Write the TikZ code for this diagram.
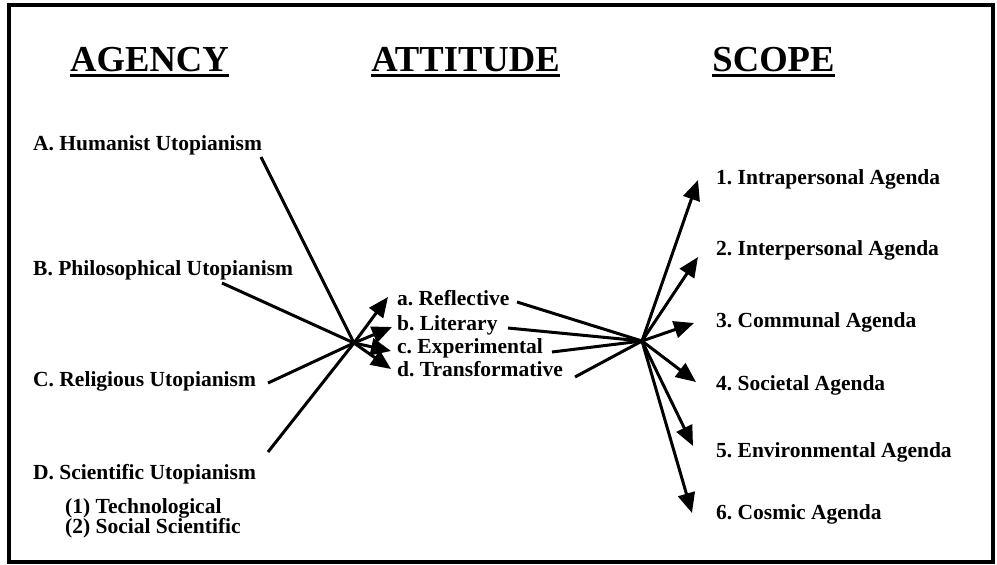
\documentclass[tikz,border=0pt]{standalone}
\usepackage{fontspec}
\setmainfont{Liberation Serif}
\usetikzlibrary{arrows.meta}
\frenchspacing
\begin{document}
\begin{tikzpicture}[x=1pt,y=-1pt,
  lbl/.style={anchor=base west,inner sep=0pt,font=\fontsize{21.5}{24}\selectfont\bfseries\frenchspacing},
  ttl/.style={anchor=base,inner sep=0pt,font=\fontsize{36.6}{40}\selectfont\bfseries},
  ln/.style={line width=3pt,draw=black},
  arr/.style={ln,-{Triangle[length=20pt,width=17pt]}},
  uline/.style={line width=2.4pt}]
\useasboundingbox (0,0) rectangle (997,565);
\draw[line width=3.4pt] (9,5) rectangle (993,562);
% titles
\node[ttl] (tAg) at (149.5,71) {AGENCY};
\node[ttl] (tAt) at (465.5,71) {ATTITUDE};
\node[ttl] (tSc) at (773.5,71) {SCOPE};
\foreach \t in {tAg,tAt,tSc}
  \draw[uline] ([yshift=-4.5pt]\t.base west) -- ([yshift=-4.5pt]\t.base east);
% left labels
\node[lbl] (A) at (33,150) {A. Humanist Utopianism};
\node[lbl] (B) at (33,275) {B. Philosophical Utopianism};
\node[lbl] (C) at (33,386) {C. Religious Utopianism};
\node[lbl] (D) at (33,479) {D. Scientific Utopianism};
\node[lbl] (D1) at (65,513) {(1) Technological};
\node[lbl] (D2) at (65,533) {(2) Social Scientific};
% middle labels
\node[lbl] (a) at (397,305) {a. Reflective};
\node[lbl] (b) at (397,330) {b. Literary};
\node[lbl] (c) at (397,353) {c. Experimental};
\node[lbl] (d) at (397,376) {d. Transformative};
% right labels
\node[lbl] (s1) at (716,184) {1. Intrapersonal Agenda};
\node[lbl] (s2) at (716,255) {2. Interpersonal Agenda};
\node[lbl] (s3) at (716,327) {3. Communal Agenda};
\node[lbl] (s4) at (716,390) {4. Societal Agenda};
\node[lbl] (s5) at (716,457) {5. Environmental Agenda};
\node[lbl] (s6) at (716,519) {6. Cosmic Agenda};
% hubs
\coordinate (hL) at (354,343);
\coordinate (hR) at (642,341);
% line start points
\coordinate (pA) at (261,157);
\coordinate (pB) at (222,283);
\coordinate (pC) at (268,383);
\coordinate (pD) at (268,452);
\coordinate (qa) at (517,302);
\coordinate (qb) at (508,328);
\coordinate (qc) at (552,352);
\coordinate (qd) at (575,377);
% arrow tips
\coordinate (ta) at (388,297);
\coordinate (tb) at (392,327);
\coordinate (tc) at (391,351);
\coordinate (td) at (391,369);
\coordinate (t1) at (698,180);
\coordinate (t2) at (698,257);
\coordinate (t3) at (694,323);
\coordinate (t4) at (696,382);
\coordinate (t5) at (693,446);
\coordinate (t6) at (692,513);
% connectors
\foreach \p in {pA,pB,pC,pD} \draw[ln] (\p) -- (hL);
\foreach \t in {ta,tb,tc,td} \draw[arr] (hL) -- (\t);
\foreach \p in {qa,qb,qc,qd} \draw[ln] (\p) -- (hR);
\foreach \t in {t1,t2,t3,t4,t5,t6} \draw[arr] (hR) -- (\t);
\end{tikzpicture}
\end{document}
